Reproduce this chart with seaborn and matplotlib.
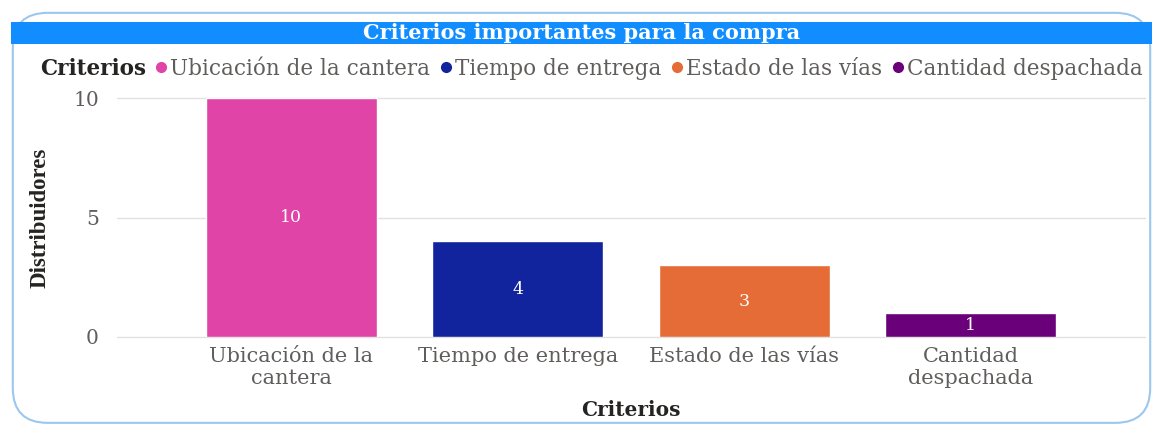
import matplotlib
matplotlib.use("Agg")
import matplotlib.pyplot as plt
import seaborn as sns
import pandas as pd
from matplotlib.lines import Line2D
from matplotlib.patches import FancyBboxPatch, Rectangle

categories = ["Ubicación de la cantera", "Tiempo de entrega", "Estado de las vías", "Cantidad despachada"]
tick_labels = ["Ubicación de la\ncantera", "Tiempo de entrega", "Estado de las vías", "Cantidad\ndespachada"]
values = [10, 4, 3, 1]
colors = ["#E044A7", "#12239E", "#E66C37", "#6B007B"]
yticks = [0, 5, 10]

sns.set_theme(style="white")
plt.rcParams['font.family'] = ['DejaVu Serif', 'Liberation Serif']

fig = plt.figure(figsize=(11.63, 4.28), dpi=100)
fig.patch.set_facecolor("white")

# outer rounded frame
frame = FancyBboxPatch((0.011, 0.012), 0.978, 0.958, boxstyle="round,pad=0,rounding_size=0.03",
                       transform=fig.transFigure, facecolor="white", edgecolor="#9CC8EE",
                       linewidth=1.5, mutation_aspect=11.63/4.28, zorder=-5)
fig.patches.append(frame)
# title banner
banner = Rectangle((11/1163, 1-44/428), 1141/1163, 22/428, transform=fig.transFigure,
                   facecolor="#118DFF", edgecolor="none", zorder=-4)
fig.patches.append(banner)
fig.text(0.5, 1-33/428, "Criterios importantes para la compra", ha="center", va="center",
         color="white", fontsize=15, fontweight="bold")

ax = fig.add_axes([117/1163, 1-337/428, (1145-117)/1163, (337-98)/428])
df = pd.DataFrame({"Criterio": categories, "Distribuidores": values})
sns.barplot(data=df, x="Criterio", y="Distribuidores", hue="Criterio", palette=colors,
            order=categories, hue_order=categories, width=0.755, legend=False, ax=ax,
            saturation=1)
ax.set_ylim(0, 10)
ax.set_xlim(-0.77, 3.77)
ax.set_yticks(yticks)
ax.set_yticklabels([str(v) for v in yticks], color="#605E5C", fontsize=14.5)
ax.set_xticks(range(len(categories)))
ax.set_xticklabels(tick_labels, color="#605E5C", fontsize=15, linespacing=1.25)
ax.tick_params(axis="x", length=0, pad=7)
ax.tick_params(axis="y", length=0, pad=13)
ax.yaxis.grid(True, color="#E1E1E1", linewidth=1)
for gl in ax.get_ygridlines():
    gl.set_clip_on(False)
ax.set_axisbelow(True)
for s in ax.spines.values():
    s.set_visible(False)
ax.set_xlabel("Criterios", fontsize=14.5, fontweight="bold", color="#252423", labelpad=8)
ax.set_ylabel("Distribuidores", fontsize=16.5, fontweight="bold", color="#252423", labelpad=16,
              family="Liberation Serif")

for c in ax.containers:
    ax.bar_label(c, labels=[str(int(b.get_height())) for b in c], label_type="center",
                 color="white", fontsize=12.5)

handles = [Line2D([], [], linestyle="none", marker="none")] + [
    Line2D([], [], linestyle="none", marker="o", markersize=7, color=col) for col in colors]
leg = fig.legend(handles, ["Criterios"] + categories, loc="center left",
                 bbox_to_anchor=(16/1163, 1-69/428), ncol=5, frameon=False,
                 fontsize=15.5, handlelength=0.5, handletextpad=0.2, columnspacing=0.45,
                 labelcolor="#605E5C", borderaxespad=0)
txts = leg.get_texts()
txts[0].set_fontweight("bold")
txts[0].set_color("#252423")

fig.savefig("out.png", dpi=100, facecolor="white")
